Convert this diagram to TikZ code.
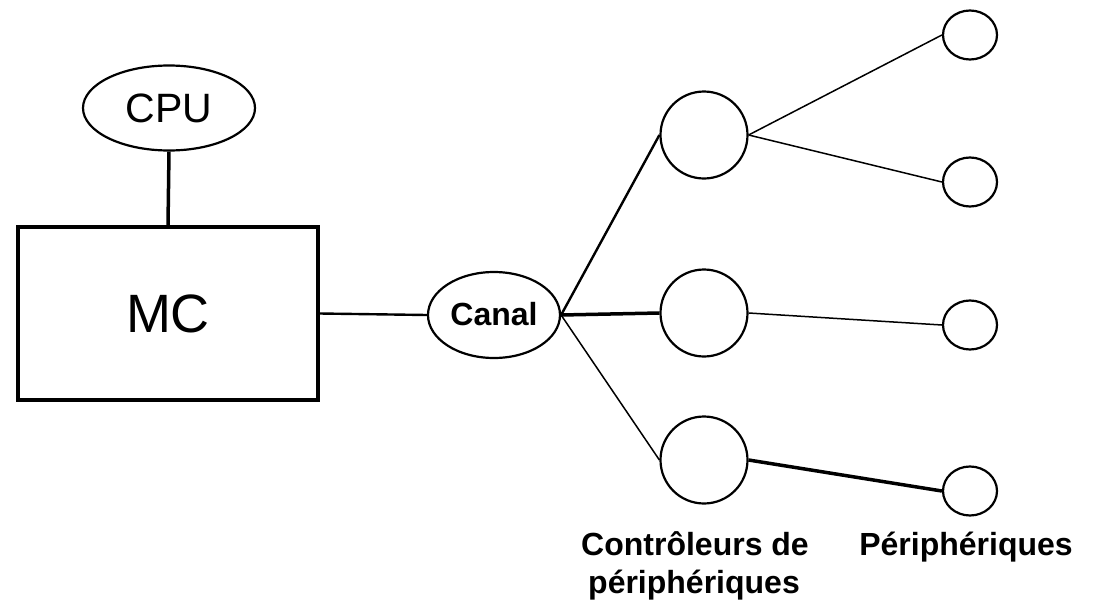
\documentclass[tikz,border=0pt]{standalone}
\usepackage{fontspec}
\setmainfont{Liberation Sans}
\usetikzlibrary{shapes.geometric}
\begin{document}
\begin{tikzpicture}[x=1pt,y=-1pt,
  oval/.style={ellipse,draw,line width=2.2pt,inner sep=0pt},
  ctrl/.style={circle,draw,line width=2.2pt,inner sep=0pt,minimum size=87pt},
  periph/.style={ellipse,draw,line width=2.2pt,inner sep=0pt,minimum width=54pt,minimum height=49pt},
  heavy/.style={line width=3.5pt},
  medium/.style={line width=2.4pt},
  light/.style={line width=1.5pt},
  caption/.style={font=\fontsize{32}{38}\selectfont\bfseries,anchor=base,inner sep=0pt}]
\useasboundingbox (0,0) rectangle (1109,600);

% processor and central memory
\node[oval,minimum width=172pt,minimum height=85pt,font=\fontsize{41}{41}\selectfont] (cpu) at (169,108) {CPU};
\node[draw,line width=3.5pt,minimum width=300pt,minimum height=173pt,inner sep=0pt,font=\fontsize{54}{54}\selectfont] (mc) at (168,313.5) {MC};

% channel
\node[oval,minimum width=132pt,minimum height=86pt,font=\fontsize{32}{32}\selectfont\bfseries] (canal) at (494,315) {\raisebox{3pt}{Canal}};

% device controllers
\node[ctrl] (c1) at (704,135) {};
\node[ctrl] (c2) at (704,313) {};
\node[ctrl] (c3) at (704,460) {};

% peripherals
\node[periph] (p1) at (970,35) {};
\node[periph] (p2) at (970,182) {};
\node[periph] (p3) at (970,325) {};
\node[periph] (p4) at (970,491) {};

% links
\draw[heavy] (cpu.south) -- (mc.north);
\draw[medium] (mc.east) -- (canal.west);
\draw[medium] (canal.east) -- (c1.west);
\draw[heavy] (canal.east) -- (c2.west);
\draw[light] (canal.east) -- (c3.west);
\draw[light] (c1.east) -- (p1.west);
\draw[light] (c1.east) -- (p2.west);
\draw[light] (c2.east) -- (p3.west);
\draw[heavy] (c3.east) -- (p4.west);

% captions
\node[caption] (ctltitle) at (695,555) {Contrôleurs de};
\node[caption] (ctltitleb) at (694,593) {périphériques};
\node[caption] (pertitle) at (966,555) {Périphériques};
\end{tikzpicture}
\end{document}
